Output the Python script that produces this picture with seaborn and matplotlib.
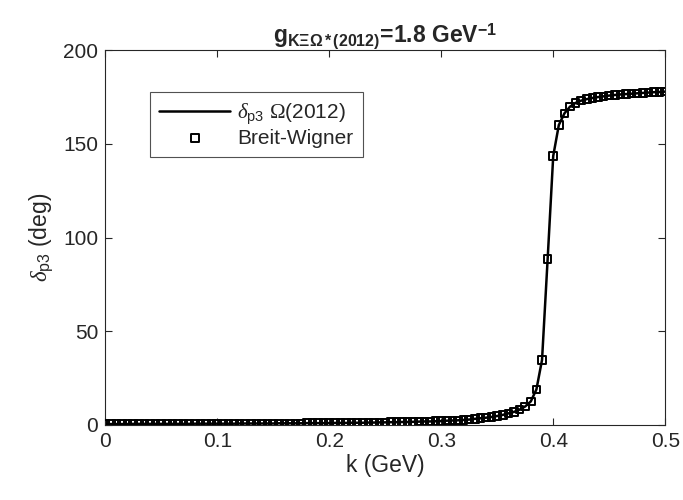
import numpy as np
import pandas as pd
import matplotlib
matplotlib.use('Agg')
import matplotlib.pyplot as plt
import seaborn as sns

# --- data (k in GeV, phase in degrees) ---
k_vals = [0.000, 0.005, 0.010, 0.015, 0.020, 0.025, 0.030, 0.035, 0.040, 0.045,
          0.050, 0.055, 0.060, 0.065, 0.070, 0.075, 0.080, 0.085, 0.090, 0.095,
          0.100, 0.105, 0.110, 0.115, 0.120, 0.125, 0.130, 0.135, 0.140, 0.145,
          0.150, 0.155, 0.160, 0.165, 0.170, 0.175, 0.180, 0.185, 0.190, 0.195,
          0.200, 0.205, 0.210, 0.215, 0.220, 0.225, 0.230, 0.235, 0.240, 0.245,
          0.250, 0.255, 0.260, 0.265, 0.270, 0.275, 0.280, 0.285, 0.290, 0.295,
          0.300, 0.305, 0.310, 0.315, 0.320, 0.325, 0.330, 0.335, 0.340, 0.345,
          0.350, 0.355, 0.360, 0.365, 0.370, 0.375, 0.380, 0.385, 0.390, 0.395,
          0.400, 0.405, 0.410, 0.415, 0.420, 0.425, 0.430, 0.435, 0.440, 0.445,
          0.450, 0.455, 0.460, 0.465, 0.470, 0.475, 0.480, 0.485, 0.490, 0.495,
          0.500]
delta_p3 = [0.5, 0.5, 0.5, 0.5, 0.5, 0.6, 0.6, 0.6, 0.6, 0.6,
            0.6, 0.6, 0.6, 0.6, 0.6, 0.6, 0.7, 0.7, 0.7, 0.7,
            0.7, 0.7, 0.7, 0.7, 0.8, 0.8, 0.8, 0.8, 0.8, 0.8,
            0.8, 0.9, 0.9, 0.9, 0.9, 0.9, 1.0, 1.0, 1.0, 1.0,
            1.0, 1.1, 1.1, 1.1, 1.2, 1.2, 1.2, 1.3, 1.3, 1.4,
            1.4, 1.5, 1.5, 1.6, 1.6, 1.7, 1.8, 1.9, 1.9, 2.0,
            2.1, 2.3, 2.4, 2.5, 2.7, 2.9, 3.3, 3.6, 3.9, 4.3,
            4.8, 5.4, 6.2, 7.0, 8.2, 9.9, 12.6, 19.0, 34.7, 88.4,
            143.5, 160.0, 166.2, 169.8, 171.8, 173.0, 173.8, 174.4, 174.9, 175.3,
            175.7, 176.0, 176.3, 176.5, 176.7, 176.9, 177.1, 177.3, 177.5, 177.6,
            177.8]
breit_wigner = delta_p3

df = pd.DataFrame({'k': k_vals, 'delta': delta_p3, 'bw': breit_wigner})

sns.set_style('ticks')
plt.rcParams['font.family'] = ['Liberation Sans', 'DejaVu Sans']
plt.rcParams['mathtext.fontset'] = 'custom'
plt.rcParams['mathtext.rm'] = 'Liberation Serif'
plt.rcParams['mathtext.it'] = 'Liberation Serif:italic'
plt.rcParams['mathtext.sf'] = 'Liberation Sans'
plt.rcParams['mathtext.bf'] = 'Liberation Sans:bold'

fig = plt.figure(figsize=(6.83, 5.0), dpi=100)
ax = fig.add_axes([0.154, 0.15, 0.82, 0.75])

sns.lineplot(data=df, x='k', y='delta', ax=ax, color='black', linewidth=1.8,
             label=r'$\delta_{\mathsf{p3}}$ $\Omega$(2012)')
sns.scatterplot(data=df, x='k', y='bw', ax=ax, marker='s', s=30,
                facecolor='none', edgecolor='black', linewidth=1.4,
                label='Breit-Wigner', zorder=3)

ax.set_xlim(0, 0.5)
ax.set_ylim(0, 200)
ax.set_xticks([0, 0.1, 0.2, 0.3, 0.4, 0.5])
ax.set_xticklabels(['0', '0.1', '0.2', '0.3', '0.4', '0.5'])
ax.set_yticks([0, 50, 100, 150, 200])
ax.tick_params(direction='in', length=5, width=0.8, labelsize=15, colors='#262626',
               top=True, right=True, pad=5)
for sp in ax.spines.values():
    sp.set_visible(True)
    sp.set_color('#262626')
    sp.set_linewidth(0.8)

ax.set_xlabel('k (GeV)', fontsize=16.5, color='#262626', labelpad=2)
ax.set_ylabel(r'$\delta_{\mathsf{p3}}$ (deg)', fontsize=16.5, color='#262626', labelpad=6)
ax.set_title(r'$\mathbf{g_{K\Xi\Omega*(2012)}}$=1.8 GeV$^{\mathbf{-1}}$',
             fontsize=16.5, fontweight='bold', pad=5)

leg = ax.legend(loc='upper left', bbox_to_anchor=(0.08, 0.888), fontsize=15,
                frameon=True, fancybox=False, edgecolor='#262626',
                handlelength=3.4, borderpad=0.45, labelspacing=0.1,
                handletextpad=0.35, borderaxespad=0)
leg.get_frame().set_linewidth(0.8)

plt.savefig('out.png', dpi=100)
